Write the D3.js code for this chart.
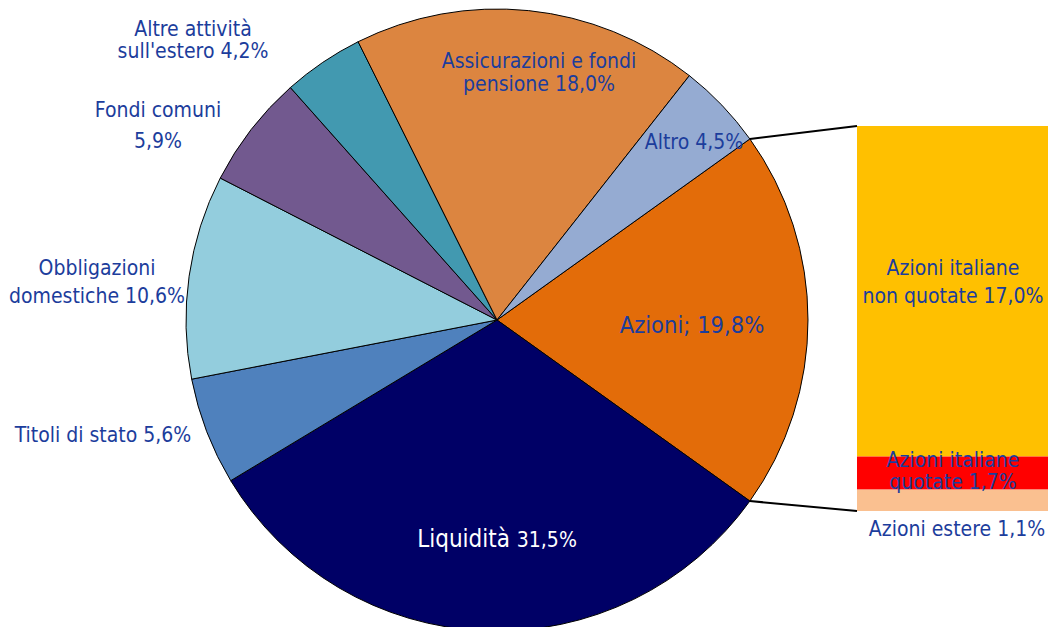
<!DOCTYPE html>
<html lang="it">
<head>
    <meta charset="UTF-8">
    <title>Composizione attività</title>
    <style>
        body { margin: 0; background: #fff; }
        svg { display: block; }
        text { font-family: "DejaVu Sans Condensed", "DejaVu Sans", sans-serif; }
    </style>
    <script src="https://d3js.org/d3.v7.min.js"></script>
</head>
<body>
    <div id="chart"></div>
    <script>
        // quote del pie (%)
        const sliceNames = ["Azioni", "Liquidità", "Titoli di stato", "Obbligazioni domestiche",
            "Fondi comuni", "Altre attività sull'estero", "Assicurazioni e fondi pensione", "Altro"]
        const sliceValues = [19.8, 31.5, 5.6, 10.6, 5.9, 4.2, 18.0, 4.5]

        // scomposizione delle azioni (barra)
        const barNames = ["Azioni italiane non quotate", "Azioni italiane quotate", "Azioni estere"]
        const barValues = [17.0, 1.7, 1.1]

        const width = 1048, height = 627
        const cx = 497, cy = 320, radius = 311

        const sliceColor = ["#e36c09", "#000066", "#4f81bd", "#93cddd", "#72598f", "#4299b0", "#dc8540", "#95abd2"]
        const barColor = ["#ffc000", "#ff0000", "#fac090"]
        const labelColor = "#1c3d9c"

        // etichette: righe di testo (con dimensione) e posizione
        const sliceLabels = [
            { lines: [[["Azioni; 19,8%", 23.5]]], x: 692, y: 333 },
            { lines: [[["Liquidità ", 24], ["31,5%", 21]]], x: 497, y: 547, fill: "#fff" },
            { lines: [[["Titoli di stato 5,6%"]]], x: 103, y: 442 },
            { lines: [[["Obbligazioni"]], [["domestiche 10,6%"]]], x: 97, y: 275, gap: 28 },
            { lines: [[["Fondi comuni"]], [["5,9%"]]], x: 158, y: 117, gap: 31 },
            { lines: [[["Altre attività"]], [["sull'estero 4,2%"]]], x: 193, y: 36, gap: 22 },
            { lines: [[["Assicurazioni e fondi"]], [["pensione 18,0%"]]], x: 539, y: 68, gap: 23 },
            { lines: [[["Altro 4,5%"]]], x: 694, y: 149 }
        ]
        const barLabels = [
            { lines: [[["Azioni italiane"]], [["non quotate 17,0%"]]], x: 953, y: 275, gap: 28 },
            { lines: [[["Azioni italiane"]], [["quotate 1,7%"]]], x: 953, y: 467, gap: 22 },
            { lines: [[["Azioni estere 1,1%"]]], x: 957, y: 536 }
        ]

        const svg = d3.select("#chart").append("svg")
            .attr("width", width).attr("height", height)

        const total = d3.sum(sliceValues)
        const half = sliceValues[0] / total * Math.PI
        const pie = d3.pie().sort(null)
            .startAngle(Math.PI / 2 - half)
            .endAngle(Math.PI / 2 - half + 2 * Math.PI)
        const arcs = pie(sliceValues)
        const arc = d3.arc().innerRadius(0).outerRadius(radius)

        const pieG = svg.append("g").attr("transform", `translate(${cx},${cy})`)
        pieG.selectAll("path").data(arcs).enter().append("path")
            .attr("d", arc)
            .attr("fill", (d, i) => sliceColor[i])
            .attr("stroke", "#000")
            .attr("stroke-width", 1)

        // barra
        const barX = 857, barW = 192
        const yScale = d3.scaleLinear().domain([0, d3.sum(barValues)]).range([126, 511])
        let acc = 0
        const stacks = barValues.map(v => { const s = { y0: acc, y1: acc + v }; acc += v; return s })
        svg.selectAll(".bar").data(stacks).enter().append("rect")
            .attr("class", "bar")
            .attr("x", barX)
            .attr("y", d => yScale(d.y0))
            .attr("width", barW)
            .attr("height", d => yScale(d.y1) - yScale(d.y0))
            .attr("fill", (d, i) => barColor[i])

        // linee di collegamento
        const az = arcs[0]
        const pt = a => [cx + radius * Math.sin(a), cy - radius * Math.cos(a)]
        const links = [
            [pt(az.startAngle), [barX, yScale(0)]],
            [pt(az.endAngle), [barX, yScale(d3.sum(barValues))]]
        ]
        svg.selectAll(".link").data(links).enter().append("line")
            .attr("class", "link")
            .attr("x1", d => d[0][0]).attr("y1", d => d[0][1])
            .attr("x2", d => d[1][0]).attr("y2", d => d[1][1])
            .attr("stroke", "#000").attr("stroke-width", 2)

        function drawLabels(list) {
            list.forEach(l => {
                l.lines.forEach((parts, i) => {
                    const t = svg.append("text")
                        .attr("x", l.x)
                        .attr("y", l.y + i * (l.gap || 22))
                        .attr("text-anchor", "middle")
                        .attr("fill", l.fill || labelColor)
                    parts.forEach(p => {
                        t.append("tspan").attr("font-size", (p[1] || 21) + "px").text(p[0])
                    })
                })
            })
        }
        drawLabels(sliceLabels)
        drawLabels(barLabels)
    </script>
</body>
</html>
